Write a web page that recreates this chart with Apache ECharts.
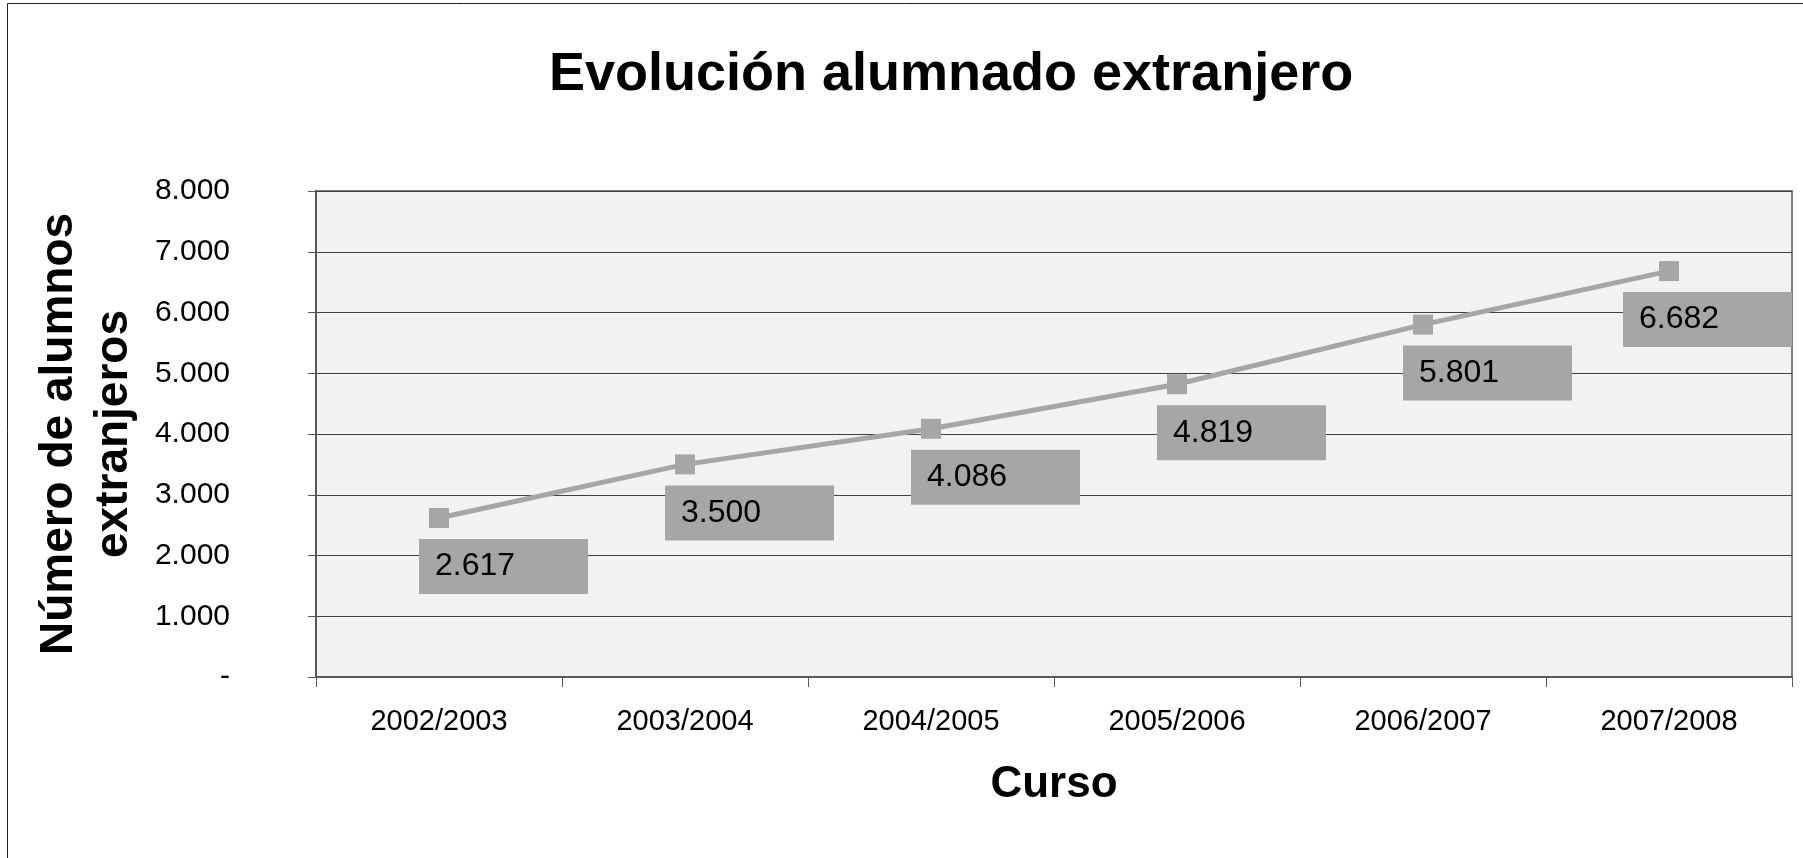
<!DOCTYPE html>
<html>
<head>
<meta charset="utf-8">
<title>Evolución alumnado extranjero</title>
<script src="https://cdn.jsdelivr.net/npm/echarts@6/dist/echarts.min.js"></script>
<style>
  html, body { margin: 0; padding: 0; background: #fff; }
  #chart { width: 1803px; height: 858px; }
</style>
</head>
<body>
<div id="chart"></div>
<script>
// datos
const cursos = ['2002/2003', '2003/2004', '2004/2005', '2005/2006', '2006/2007', '2007/2008']
const alumnos = [2617, 3500, 4086, 4819, 5801, 6682]

const FONT = "'Liberation Sans', Arial, sans-serif"
const GRAY = '#a6a6a6'

// separador de miles con punto, 0 se muestra como '-'
function fmt (v) {
  if (v === 0) return '-'
  return String(v).replace(/\B(?=(\d{3})+(?!\d))/g, '.')
}

const chart = echarts.init(document.getElementById('chart'))
const gridRight = 11

chart.setOption({
  backgroundColor: '#fff',
  animation: false,
  textStyle: { fontFamily: FONT },
  title: {
    text: 'Evolución alumnado extranjero',
    left: 544,
    top: 43,
    textStyle: { fontFamily: FONT, fontSize: 54, fontWeight: 'bold', color: '#000' }
  },
  graphic: [{
    type: 'rect',
    shape: { x: 7.5, y: 3.5, width: 2000, height: 2000 },
    style: { fill: 'none', stroke: '#222', lineWidth: 1 },
    silent: true
  }],
  grid: {
    left: 316,
    right: gridRight,
    top: 191,
    bottom: 181,
    show: true,
    backgroundColor: '#f2f2f2',
    borderColor: '#808080',
    borderWidth: 2
  },
  xAxis: {
    type: 'category',
    data: cursos,
    boundaryGap: true,
    name: 'Curso',
    nameLocation: 'middle',
    nameGap: 86,
    nameTextStyle: { fontFamily: FONT, fontSize: 44, fontWeight: 'bold', color: '#000' },
    axisLine: { lineStyle: { color: '#595959', width: 2 } },
    axisTick: { show: true, inside: false, length: 10, lineStyle: { color: '#595959', width: 1 } },
    axisLabel: { margin: 30, fontSize: 29, color: '#000', fontFamily: FONT },
    splitLine: { show: false }
  },
  yAxis: {
    type: 'value',
    min: 0,
    max: 8000,
    interval: 1000,
    name: 'Número de alumnos\nextranjeros',
    nameLocation: 'middle',
    nameRotate: 90,
    nameGap: 174,
    nameTextStyle: { fontFamily: FONT, fontSize: 46, fontWeight: 'bold', color: '#000', lineHeight: 55, align: 'center' },
    axisLine: { show: true, lineStyle: { color: '#595959', width: 2 } },
    axisTick: { show: true, inside: false, length: 8, lineStyle: { color: '#595959', width: 1 } },
    axisLabel: { margin: 86, fontSize: 30, color: '#000', fontFamily: FONT, formatter: fmt },
    splitLine: { show: true, lineStyle: { color: '#404040', width: 1 } }
  },
  series: [{
    type: 'line',
    data: alumnos,
    symbol: 'rect',
    symbolSize: 20,
    itemStyle: { color: GRAY },
    lineStyle: { color: GRAY, width: 5 },
    label: {
      show: true,
      position: [-10, 31],
      formatter: p => fmt(p.value),
      fontFamily: FONT,
      fontSize: 32,
      lineHeight: 31,
      color: '#000',
      backgroundColor: GRAY,
      width: 137,
      height: 31,
      padding: [12, 16]
    },
    labelLayout: function (params) {
      // que la etiqueta no se salga del area de trazado
      const right = chart.getWidth() - gridRight
      const r = params.labelRect
      if (r.x + r.width > right) {
        return { x: right - r.width }
      }
    }
  }]
})
</script>
</body>
</html>
